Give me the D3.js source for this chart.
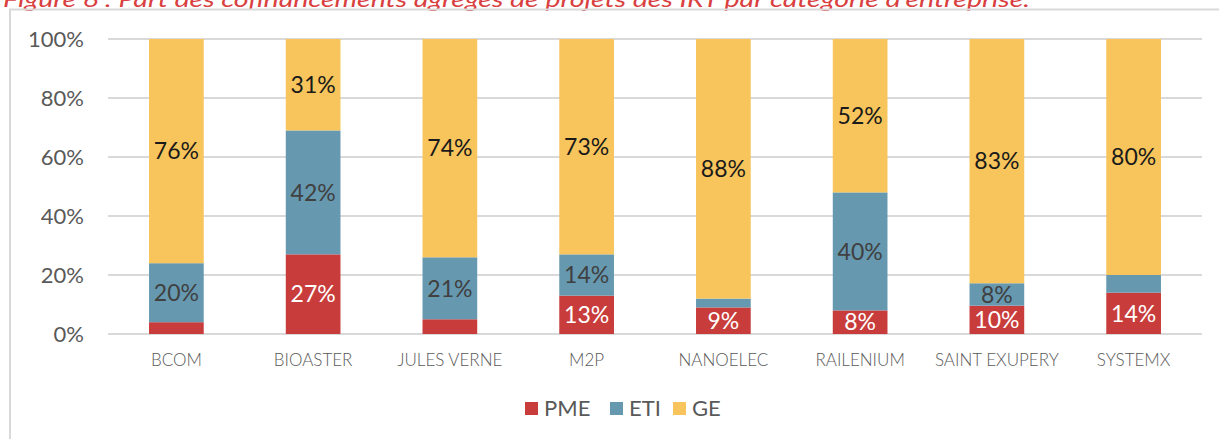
<!DOCTYPE html>
<meta charset="utf-8">
<script src="https://d3js.org/d3.v7.min.js"></script>
<style>
  body { margin: 0; background: #fff; }
  text { font-family: Lato, "Noto Sans", sans-serif; }
</style>
<div id="chart"></div>
<script>
// categories and shares (%)
const categories = ["BCOM", "BIOASTER", "JULES VERNE", "M2P", "NANOELEC", "RAILENIUM", "SAINT EXUPERY", "SYSTEMX"];
const pme = [4, 27, 5, 13, 9, 8, 9.6, 14];
const eti = [20, 42, 21, 14, 3, 40, 7.6, 6];
const ge  = [76, 31, 74, 73, 88, 52, 82.8, 80];
const seriesNames = ["PME", "ETI", "GE"];
const yTicks = [0, 20, 40, 60, 80, 100];
// segments that carry no label in the original
const hidden = {PME: ["BCOM", "JULES VERNE"], ETI: ["NANOELEC", "SYSTEMX"], GE: []};

const colors = {PME: "#c83c3b", ETI: "#6699b0", GE: "#f7c55b"};
const labelColors = {PME: "#ffffff", ETI: "#404040", GE: "#1a1a1a"};

const W = 1219, H = 439;
const margin = {top: 39, right: 17, bottom: 105, left: 108},
    width = W - margin.left - margin.right,
    height = H - margin.top - margin.bottom;

const svg = d3.select("#chart").append("svg")
    .attr("width", W).attr("height", H);

// caption, cut off at the top as in the source
svg.append("text")
    .attr("x", 3).attr("y", 7)
    .attr("fill", "#d9403f")
    .attr("textLength", 1027)
    .attr("lengthAdjust", "spacingAndGlyphs")
    .style("font-style", "italic")
    .style("font-size", "21px")
    .text("Figure 6 : Part des cofinancements agrégés de projets des IRT par catégorie d'entreprise.");

// chart frame
svg.append("rect")
    .attr("x", 10).attr("y", 9.5)
    .attr("width", W + 20).attr("height", H + 20)
    .attr("fill", "none").attr("stroke", "#d9d9d9").attr("stroke-width", 2);

const g = svg.append("g").attr("transform", `translate(${margin.left},${margin.top})`);

const data = categories.map((c, i) => ({cat: c, PME: pme[i], ETI: eti[i], GE: ge[i]}));
const stacked = d3.stack().keys(seriesNames)(data);

const x = d3.scaleBand().domain(categories).range([0, width]).paddingInner(0.6).paddingOuter(0.3);
const y = d3.scaleLinear().domain([0, 100]).range([height, 0]);

// gridlines
g.append("g")
  .selectAll("line")
  .data(yTicks)
  .join("line")
    .attr("x1", 0).attr("x2", width)
    .attr("y1", d => y(d)).attr("y2", d => y(d))
    .attr("stroke", "#d9d9d9").attr("stroke-width", 2);

// y axis labels
const yAxis = g.append("g")
  .call(d3.axisLeft(y).tickValues(yTicks).tickFormat(d => d + "%").tickSize(0).tickPadding(24));
yAxis.select(".domain").remove();
yAxis.selectAll("text")
    .attr("fill", "#595959")
    .style("font-size", "22px")
    .attr("dy", "0.35em");

// x axis labels
const xAxis = g.append("g")
    .attr("transform", `translate(0,${height})`)
  .call(d3.axisBottom(x).tickSize(0).tickPadding(20));
xAxis.select(".domain").remove();
xAxis.selectAll("text")
    .attr("fill", "#595959")
    .style("font-weight", "300")
    .style("font-size", "17px");

// bars
const layers = g.selectAll(".layer")
  .data(stacked)
  .join("g")
    .attr("class", "layer")
    .attr("fill", d => colors[d.key]);

layers.selectAll("rect")
  .data(d => d)
  .join("rect")
    .attr("x", d => x(d.data.cat))
    .attr("width", x.bandwidth())
    .attr("y", d => y(d[1]))
    .attr("height", d => y(d[0]) - y(d[1]));

// value labels
layers.each(function(s) {
  d3.select(this).selectAll("text")
    .data(s.filter(d => !hidden[s.key].includes(d.data.cat)))
    .join("text")
      .attr("x", d => x(d.data.cat) + x.bandwidth() / 2)
      .attr("y", d => (y(d[0]) + y(d[1])) / 2)
      .attr("dy", "0.36em")
      .attr("text-anchor", "middle")
      .attr("fill", labelColors[s.key])
      .style("font-size", "23px")
      .text(d => Math.round(d[1] - d[0]) + "%");
});

// legend
const legend = svg.append("g").attr("transform", "translate(525,408)");
const legendX = [0, 85, 148];
seriesNames.forEach((k, i) => {
  const item = legend.append("g").attr("transform", `translate(${legendX[i]},0)`);
  item.append("rect").attr("x", 0).attr("y", -6).attr("width", 13).attr("height", 13).attr("fill", colors[k]);
  item.append("text").attr("x", 19).attr("y", 0).attr("dy", "0.36em")
    .attr("fill", "#595959").style("font-size", "22px").text(k);
});
</script>
